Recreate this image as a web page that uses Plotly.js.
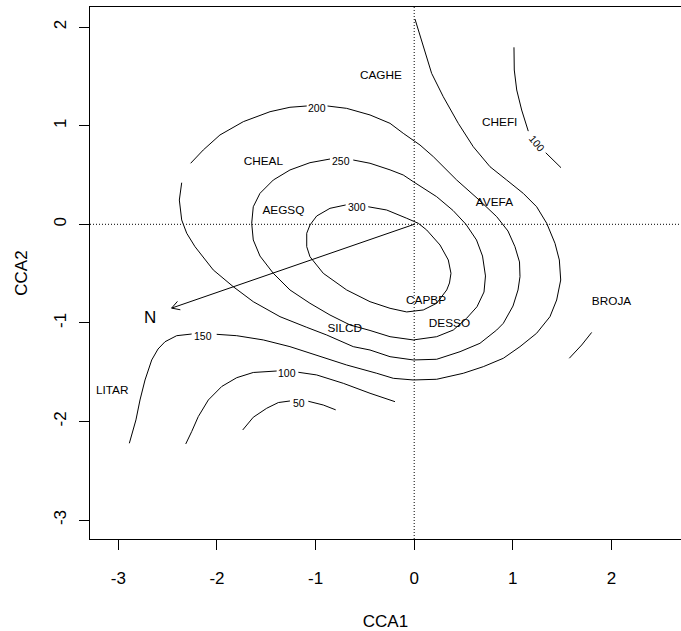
<!DOCTYPE html>
<html>
<head>
<meta charset="utf-8">
<script src="https://cdn.plot.ly/plotly-3.0.1.min.js"></script>
<style>html,body{margin:0;padding:0;background:#fff;}#chart{width:681px;height:631px;}</style>
</head>
<body>
<div id="chart"></div>
<script>
// ---- data ----
const xTicks = [-3, -2, -1, 0, 1, 2];
const yTicks = [-3, -2, -1, 0, 1, 2];

// contour lines (null = break in the line where R left a gap / label)
const c300X = [-0.466,-0.279,-0.076,0.042,0.127,0.262,0.346,0.373,0.358,0.330,0.228,0.092,-0.076,-0.245,-0.448,-0.685,-0.922,-1.057,-1.090,-1.090,-1.057,-0.989,-0.854,-0.695];
const c300Y = [0.178,0.145,0.061,0.010,-0.058,-0.210,-0.362,-0.497,-0.595,-0.666,-0.801,-0.869,-0.889,-0.852,-0.785,-0.666,-0.497,-0.329,-0.227,-0.091,-0.007,0.084,0.162,0.196];

const c250X = [-0.618,-0.448,-0.245,-0.111,-0.009,0.228,0.394,0.525,0.632,0.693,0.723,0.708,0.637,0.532,0.397,0.228,-0.009,-0.245,-0.448,-0.651,-0.854,-1.057,-1.260,-1.429,-1.564,-1.632,-1.648,-1.632,-1.564,-1.429,-1.260,-1.057,-0.854];
const c250Y = [0.652,0.619,0.552,0.500,0.432,0.280,0.140,0.000,-0.159,-0.322,-0.524,-0.687,-0.836,-0.953,-1.072,-1.140,-1.173,-1.140,-1.077,-1.021,-0.920,-0.801,-0.666,-0.497,-0.322,-0.159,0.010,0.178,0.314,0.449,0.551,0.625,0.662];

const c200X = [-2.267,-2.139,-1.970,-1.733,-1.462,-1.260,-1.090, null,
  -0.879,-0.685,-0.448,-0.245,-0.111,0.059,0.194,0.431,0.647,0.837,0.951,1.022,1.068,1.073,1.053,1.002,0.904,0.837,0.667,0.465,0.228,-0.009,-0.245,-0.448,-0.618,-0.887,-1.090,-1.361,-1.632,-1.835,-2.038,-2.172,-2.223,-2.307,-2.358,-2.382,-2.358];
const c200Y = [0.619,0.754,0.906,1.041,1.142,1.187,1.200, null,
  1.200,1.176,1.109,1.024,0.923,0.804,0.686,0.449,0.257,0.077,-0.068,-0.227,-0.382,-0.531,-0.666,-0.829,-1.004,-1.072,-1.207,-1.292,-1.369,-1.376,-1.343,-1.275,-1.241,-1.123,-1.045,-0.937,-0.785,-0.633,-0.463,-0.294,-0.227,-0.091,0.044,0.246,0.422];

const c150X = [0.008,0.092,0.177,0.295,0.447,0.599,0.769,0.938,1.106,1.242,1.344,1.428,1.472,1.486,1.445,1.377,1.242,1.073,0.904,0.701,0.498,0.228,-0.009,-0.212,-0.380,-0.685,-0.989,-1.260,-1.530,-1.800,-2.003, null,
  -2.257,-2.409,-2.527,-2.598,-2.662,-2.730,-2.781,-2.822,-2.889];
const c150Y = [2.082,1.801,1.531,1.294,1.024,0.787,0.584,0.449,0.314,0.178,0.010,-0.193,-0.362,-0.565,-0.768,-0.937,-1.105,-1.241,-1.359,-1.444,-1.511,-1.572,-1.579,-1.562,-1.511,-1.427,-1.326,-1.241,-1.173,-1.130,-1.116, null,
  -1.113,-1.130,-1.191,-1.265,-1.376,-1.579,-1.782,-1.984,-2.221];

const c100X = [-1.395,-1.632,-1.800,-1.952,-2.088,-2.190,-2.257,-2.317, null,
  -1.175,-0.989,-0.719,-0.448,-0.195, null,
  1.012,1.015,1.040,1.090,1.157, null,
  1.334,1.489, null,
  1.800,1.750,1.699,1.573];
const c100Y = [-1.488,-1.503,-1.556,-1.645,-1.782,-1.951,-2.103,-2.228, null,
  -1.501,-1.528,-1.613,-1.714,-1.799, null,
  1.795,1.565,1.362,1.159,0.945, null,
  0.726,0.574, null,
  -1.097,-1.163,-1.224,-1.359];

const c50X = [-1.260,-1.378,-1.496,-1.632,-1.739, null, -1.074,-0.922,-0.796];
const c50Y = [-1.792,-1.808,-1.866,-1.957,-2.086, null, -1.795,-1.833,-1.882];

// contour labels
const contourLabelText = ['300','250','200','150','100','50','100'];
const contourLabelX = [-0.583,-0.740,-0.984,-2.139,-1.288,-1.170,1.242];
const contourLabelY = [0.172,0.642,1.176,-1.130,-1.511,-1.815,0.821];

// species scores
const speciesNames = ['CAGHE','CHEFI','AVEFA','CHEAL','AEGSQ','CAPBP','DESSO','BROJA','SILCD','LITAR'];
const speciesX = [-0.337,0.867,0.814,-1.530,-1.326,0.120,0.358,2.001,-0.704,-3.063];
const speciesY = [1.504,1.030,0.219,0.635,0.138,-0.775,-1.011,-0.788,-1.062,-1.691];

// environmental vector
const envName = ['N'];
const envX = [-2.46];
const envY = [-0.85];
const envLabelX = [-2.677];
const envLabelY = [-0.960];

// ---- build plot ----
const FONT = 'Liberation Sans, Arial, Helvetica, sans-serif';
const lineStyle = {color: '#000', width: 1};
function lineTrace(x, y) {
  return {x: x, y: y, type: 'scatter', mode: 'lines', line: lineStyle,
          connectgaps: false, hoverinfo: 'skip', showlegend: false};
}
const traces = [
  lineTrace(c300X, c300Y), lineTrace(c250X, c250Y), lineTrace(c200X, c200Y),
  lineTrace(c150X, c150Y), lineTrace(c100X, c100Y), lineTrace(c50X, c50Y)
];

// arrow shaft + open head (R style, 30 deg)
envX.forEach((ex, i) => {
  const ey = envY[i];
  traces.push(lineTrace([0, ex], [0, ey]));
  const a = Math.atan2(ey, ex), L = 0.09, h = Math.PI / 6;
  traces.push(lineTrace(
    [ex - L * Math.cos(a - h), ex, ex - L * Math.cos(a + h)],
    [ey - L * Math.sin(a - h), ey, ey - L * Math.sin(a + h)]));
});

traces.push({x: speciesX, y: speciesY, text: speciesNames, type: 'scatter', mode: 'text',
  textposition: 'middle center', textfont: {family: FONT, size: 11.8, color: '#000'},
  hoverinfo: 'skip', showlegend: false});
traces.push({x: envLabelX, y: envLabelY, text: envName, type: 'scatter', mode: 'text',
  textposition: 'middle center', textfont: {family: FONT, size: 17, color: '#000'},
  hoverinfo: 'skip', showlegend: false});

const labelAngles = [0, 0, 0, 0, 0, 0, 50];
const annotations = contourLabelText.map((t, i) => ({
  x: contourLabelX[i], y: contourLabelY[i], xref: 'x', yref: 'y', text: t,
  showarrow: false, textangle: labelAngles[i],
  font: {family: FONT, size: 10.5, color: '#000'}
}));

const layout = {
  width: 681, height: 631,
  margin: {l: 90, r: 0, t: 7, b: 92, pad: 0},
  paper_bgcolor: '#fff', plot_bgcolor: '#fff',
  font: {family: FONT, color: '#000'},
  showlegend: false,
  xaxis: {
    range: [-3.288, 2.706], tickvals: xTicks, ticktext: xTicks.map(String),
    ticks: 'outside', ticklen: 10, tickwidth: 1, tickcolor: '#000',
    showline: true, mirror: true, linecolor: '#000', linewidth: 1,
    showgrid: false, zeroline: false, ticklabelstandoff: 14,
    tickfont: {family: FONT, size: 17, color: '#000'},
    title: {text: 'CCA1', font: {family: FONT, size: 17, color: '#000'}, standoff: 27}
  },
  yaxis: {
    range: [-3.192, 2.204], tickvals: yTicks, ticktext: yTicks.map(String),
    ticks: 'outside', ticklen: 10, tickwidth: 1, tickcolor: '#000', tickangle: -90,
    showline: true, mirror: false, linecolor: '#000', linewidth: 1,
    showgrid: false, zeroline: false, ticklabelstandoff: 6,
    tickfont: {family: FONT, size: 17, color: '#000'},
    title: {text: 'CCA2', font: {family: FONT, size: 17, color: '#000'}, standoff: 19}
  },
  shapes: [
    {type: 'line', xref: 'paper', yref: 'y', x0: 0, x1: 1, y0: 0, y1: 0,
     line: {color: '#000', width: 1, dash: '1px,2px'}, layer: 'below'},
    {type: 'line', xref: 'x', yref: 'paper', x0: 0, x1: 0, y0: 0, y1: 1,
     line: {color: '#000', width: 1, dash: '1px,2px'}, layer: 'below'}
  ],
  annotations: annotations
};

Plotly.newPlot('chart', traces, layout, {displayModeBar: false, staticPlot: true});
</script>
</body>
</html>
